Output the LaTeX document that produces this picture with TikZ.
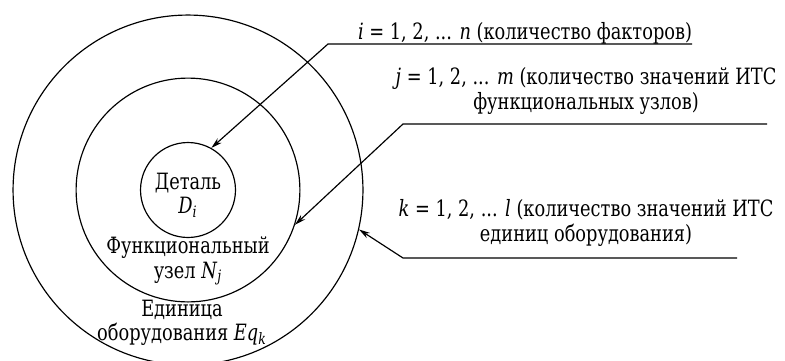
\documentclass[tikz,border=0pt]{standalone}
\usepackage{fontspec}
\setmainfont{DejaVu Serif Condensed}[FakeStretch=0.88]
\usetikzlibrary{arrows.meta, positioning}
\tikzstyle{ring} = [circle, draw, inner sep=0pt, line width=0.6pt]
\tikzstyle{lbl} = [align=center, inner sep=0pt, font=\fontsize{11.5}{12.6}\selectfont]
\tikzstyle{arrow} = [line width=0.6pt, -{Stealth[length=2mm, width=1.1mm]}]

\begin{document}
\begin{tikzpicture}[x=0.018cm, y=-0.018cm]
  \useasboundingbox (0,0) rectangle (785,360);

  % three nested levels
  \node (outer) [ring, minimum size=6.3cm] at (188,190) {};
  \node (middle) [ring, minimum size=4.03cm] at (188,190) {};
  \node (inner) [ring, minimum size=1.71cm] at (188,190) {};

  \node (det) [lbl] at (188,195) {Деталь\\\textit{D}\textsubscript{\textit{i}}};
  \node (uzel) [lbl] at (188,261) {Функциональный\\узел \textit{N}\textsubscript{\textit{j}}};
  \node (edin) [lbl] at (182,323) {Единица\\оборудования \textit{Eq}\textsubscript{\textit{k}}};

  % leaders
  \coordinate (a1) at (692,44);
  \coordinate (b1) at (328,44);
  \coordinate (a2) at (767,124);
  \coordinate (b2) at (403,124);
  \coordinate (a3) at (737,258);
  \coordinate (b3) at (403,258);

  \node (t1) [lbl] at (525,33) {\textit{i} = 1, 2, ... \textit{n} (количество факторов)};
  \node (t2) [lbl] at (586,91) {\textit{j} = 1, 2, ... \textit{m} (количество значений ИТС\\функциональных узлов)};
  \node (t3) [lbl] at (586,223) {\textit{k} = 1, 2, ... \textit{l} (количество значений ИТС\\единиц оборудования)};

  \draw[arrow] (a1) -- (b1) -- (inner.61);
  \draw[arrow] (a2) -- (b2) -- (middle.-18);
  \draw[arrow] (a3) -- (b3) -- (outer.-13);
\end{tikzpicture}
\end{document}
